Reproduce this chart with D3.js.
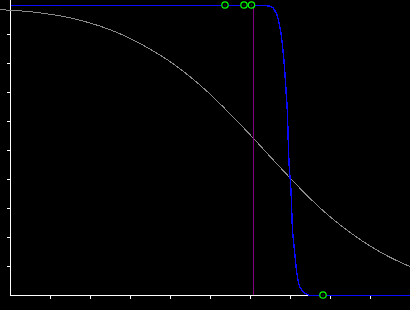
<!DOCTYPE html>
<html>
<head>
<meta charset="utf-8">
<script src="https://cdn.jsdelivr.net/npm/d3@7"></script>
<style>
  body { margin: 0; background: #000; }
  svg { display: block; background: #000; }
</style>
</head>
<body>
<svg id="chart" width="410" height="310"></svg>
<script>
// gray slow curve
var grayX = [-0.25, 0, 0.5, 1, 1.5, 2, 2.5, 3, 3.5, 4, 4.5, 5, 5.5, 6, 6.5, 7, 7.5, 8, 8.5, 9, 9.5, 10];
var grayY = [9.84, 9.82, 9.77, 9.68, 9.56, 9.38, 9.15, 8.85, 8.48, 8.05, 7.53, 6.93, 6.25, 5.53, 4.78, 4.04, 3.33, 2.70, 2.16, 1.69, 1.30, 0.98];

// blue steep curve
var blueX = [0, 6.375, 6.45, 6.5, 6.575, 6.625, 6.675, 6.7125, 6.7625, 6.8125, 6.85, 6.8875, 6.925, 6.95, 6.975, 7.0125, 7.0425, 7.1, 7.15, 7.2075, 7.2925, 7.4175, 7.5, 10];
var blueY = [10, 10, 9.98, 9.97, 9.9, 9.78, 9.62, 9.41, 9.03, 8.45, 7.86, 7.07, 6.21, 5.0, 4.31, 3.62, 2.48, 1.55, 0.86, 0.41, 0.17, 0.03, 0, 0];

// green markers
var markX = [5.375, 5.85, 6.0375, 7.825];
var markY = [10, 10, 10, 0];

var vlineX = 6.075;
var xTicks = [1, 2, 3, 4, 5, 6, 7, 8, 9];
var yTicks = [1, 2, 3, 4, 5, 6, 7, 8, 9];

var svg = d3.select("#chart");
var x = d3.scaleLinear().domain([0, 10]).range([10, 410]);
var y = d3.scaleLinear().domain([0, 10]).range([295, 5]);

// axes
var xa = svg.append("g").attr("transform", "translate(0,295)")
  .call(d3.axisBottom(x).tickValues(xTicks).tickSize(4).tickFormat(""));
var ya = svg.append("g").attr("transform", "translate(10,0)")
  .call(d3.axisLeft(y).tickValues(yTicks).tickSize(3).tickFormat(""));
svg.selectAll(".domain").remove();
svg.selectAll(".tick line").attr("stroke", "#fff").attr("shape-rendering", "crispEdges");
svg.append("line").attr("x1", 10.5).attr("x2", 10.5).attr("y1", 0).attr("y2", 295.5)
  .attr("stroke", "#fff").attr("shape-rendering", "crispEdges");
svg.append("line").attr("x1", 10).attr("x2", 410).attr("y1", 295.5).attr("y2", 295.5)
  .attr("stroke", "#fff").attr("shape-rendering", "crispEdges");

var line = d3.line().x(d => x(d[0])).y(d => y(d[1])).curve(d3.curveMonotoneX);

svg.append("path")
  .datum(d3.zip(grayX, grayY))
  .attr("d", line)
  .attr("fill", "none").attr("stroke", "#8a8a8a").attr("stroke-width", 1)
  .attr("shape-rendering", "crispEdges");

svg.append("path")
  .datum(d3.zip(blueX, blueY))
  .attr("d", line)
  .attr("transform", "translate(0.5,0.5)")
  .attr("fill", "none").attr("stroke", "#0a0aff").attr("stroke-width", 1.4)
  .attr("shape-rendering", "crispEdges");

svg.append("line")
  .attr("x1", Math.round(x(vlineX)) + 0.5).attr("x2", Math.round(x(vlineX)) + 0.5)
  .attr("y1", y(10)).attr("y2", y(0))
  .attr("stroke", "#800080").attr("shape-rendering", "crispEdges");

var marks = d3.zip(markX, markY);
svg.selectAll("circle.mk").data(marks).enter().append("circle")
  .attr("class", "mk")
  .attr("cx", d => x(d[0])).attr("cy", d => y(d[1])).attr("r", 3.2)
  .attr("fill", "#000").attr("stroke", "#00ff00").attr("stroke-width", 1.2);
svg.selectAll("circle.dot").data(marks).enter().append("circle")
  .attr("class", "dot")
  .attr("cx", d => x(d[0])).attr("cy", d => y(d[1])).attr("r", 0.6)
  .attr("fill", "#1a6a3a");
</script>
</body>
</html>
